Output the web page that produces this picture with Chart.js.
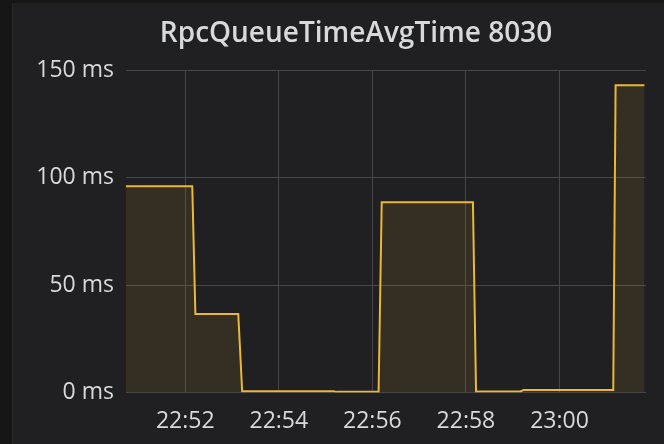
<!DOCTYPE html>
<html>
<head>
<meta charset="utf-8">
<script src="https://cdn.jsdelivr.net/npm/chart.js@4"></script>
<style>
  html, body { margin: 0; padding: 0; width: 664px; height: 444px; overflow: hidden; background: #161616; }
  #panel { position: absolute; left: 12px; top: 3px; width: 688px; height: 441px; background: #201f21; border-left: 1px solid #262626; box-sizing: border-box; }
  canvas { position: absolute; left: -1px; top: 0; }
</style>
</head>
<body>
<div id="panel"><canvas id="c" width="688" height="441"></canvas></div>
<script>
// ---- data ----
const chartTitle = "RpcQueueTimeAvgTime 8030";
const sampleTimes = ["22:50:44","22:52:09","22:52:13","22:53:08","22:53:13","22:55:10","22:55:14","22:56:08","22:56:12","22:58:09","22:58:13","22:59:10","22:59:14","23:01:09","23:01:12","23:01:49"];
const sampleValues = [96, 96, 36.5, 36.5, 0.6, 0.6, 0.3, 0.3, 88.5, 88.5, 0.5, 0.5, 1.2, 1.2, 143, 143];
const xTickLabels = ["22:52","22:54","22:56","22:58","23:00"];
const yTickValues = [0, 50, 100, 150];
const xRange = ["22:50:44", "23:01:51"];
const yUnit = " ms";

function toSec(t) {
  const p = t.split(":").map(Number);
  return p[0] * 3600 + p[1] * 60 + (p[2] || 0);
}
function fmt(sec) {
  const h = Math.floor(sec / 3600), m = Math.floor((sec % 3600) / 60);
  return String(h).padStart(2, "0") + ":" + String(m).padStart(2, "0");
}

const points = sampleTimes.map((t, i) => ({ x: toSec(t), y: sampleValues[i] }));
const textColor = "#d8d9da";
const gridColor = "#464548";

// centre the title over the whole panel (which extends past the window)
const panelTitleCentre = {
  id: "panelTitleCentre",
  afterLayout(chart) {
    if (chart.titleBlock) {
      chart.titleBlock.left = 0;
      chart.titleBlock.right = chart.width;
    }
  }
};

new Chart(document.getElementById("c"), {
  type: "line",
  data: {
    datasets: [{
      data: points,
      borderColor: "#eab839",
      backgroundColor: "rgba(234,184,57,0.1)",
      borderWidth: 2,
      fill: "origin",
      pointRadius: 0,
      tension: 0
    }]
  },
  plugins: [panelTitleCentre],
  options: {
    responsive: false,
    animation: false,
    devicePixelRatio: 1,
    layout: { padding: { left: 0, right: 54, top: 0, bottom: 0 } },
    plugins: {
      legend: { display: false },
      tooltip: { enabled: false },
      title: {
        display: true,
        text: chartTitle,
        color: textColor,
        font: { family: "'Open Sans'", size: 28, weight: 600, lineHeight: 1.2 },
        padding: { top: 14.5, bottom: 19 }
      }
    },
    scales: {
      x: {
        type: "linear",
        min: toSec(xRange[0]),
        max: toSec(xRange[1]),
        afterBuildTicks: (s) => { s.ticks = xTickLabels.map(t => ({ value: toSec(t) })); },
        afterFit: (s) => { s.height = 51.5; },
        grid: { color: gridColor, lineWidth: 1, drawTicks: false },
        border: { display: false },
        ticks: {
          color: textColor,
          font: { family: "'Open Sans'", size: 23 },
          padding: 15,
          maxRotation: 0,
          autoSkip: false,
          callback: (v) => fmt(v)
        }
      },
      y: {
        min: 0,
        max: 150,
        afterBuildTicks: (s) => { s.ticks = yTickValues.map(v => ({ value: v })); },
        afterFit: (s) => { s.width = 114; },
        grid: { color: gridColor, lineWidth: 1, drawTicks: false },
        border: { display: false },
        ticks: {
          color: textColor,
          font: { family: "'Open Sans'", size: 23 },
          padding: 12,
          callback: (v) => v + yUnit
        }
      }
    }
  }
});
</script>
</body>
</html>
